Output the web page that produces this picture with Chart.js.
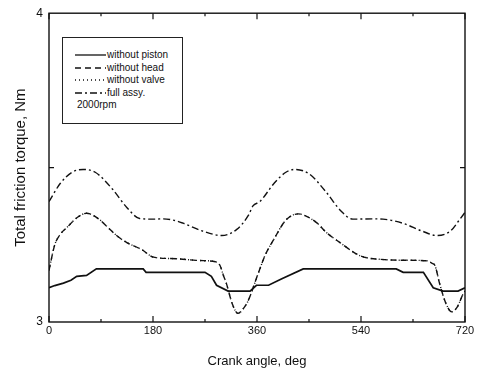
<!DOCTYPE html>
<html>
<head>
<meta charset="utf-8">
<script src="https://cdn.jsdelivr.net/npm/chart.js@4/dist/chart.umd.min.js"></script>
<style>
  body { margin: 0; background: #fff; }
  #wrap { position: relative; width: 478px; height: 369px; }
  #legendBox {
    position: absolute; left: 62px; top: 37px; width: 119px; height: 85px;
    border: 1px solid #222; background: #fff;
    font-family: "Liberation Sans", Arial, sans-serif; font-size: 10px; color: #111;
  }
  .row { position: absolute; left: 0; height: 12px; line-height: 12px; white-space: nowrap; }
  .row svg { position: absolute; left: 12px; top: 0; }
  .row span { position: absolute; left: 44px; }
  .note { position: absolute; left: 14px; }
</style>
</head>
<body>
<div id="wrap">
  <canvas id="torqueChart" width="478" height="369"></canvas>
  <div id="legendBox"></div>
</div>
<script>
// Total friction torque vs crank angle (2000rpm)
const xTicks = [0, 180, 360, 540, 720];
const yTicks = [3, 4];

const pistonAngle = [0, 10, 25, 38, 48, 65, 82, 163, 168, 270, 281, 290, 310, 348, 359, 380, 403, 440, 601, 613, 648, 665, 682, 708, 720];
const pistonTorque = [3.111, 3.118, 3.126, 3.135, 3.148, 3.151, 3.172, 3.172, 3.161, 3.161, 3.148, 3.119, 3.1, 3.1, 3.119, 3.119, 3.14, 3.172, 3.172, 3.161, 3.161, 3.111, 3.1, 3.1, 3.111];

const headAngle = [0, 10, 20, 31, 50, 65, 85, 100, 117, 134, 160, 181, 220, 261, 288, 296, 302, 307, 317, 327, 337, 345, 362, 375, 388, 410, 431, 463, 480, 503, 538, 580, 619, 655, 663, 668, 676, 687, 697, 707, 717, 720];
const headTorque = [3.167, 3.25, 3.285, 3.306, 3.34, 3.352, 3.335, 3.31, 3.28, 3.258, 3.235, 3.21, 3.205, 3.199, 3.195, 3.183, 3.15, 3.125, 3.06, 3.028, 3.045, 3.07, 3.157, 3.22, 3.264, 3.33, 3.35, 3.322, 3.29, 3.258, 3.215, 3.202, 3.2, 3.198, 3.19, 3.183, 3.125, 3.06, 3.033, 3.05, 3.092, 3.1];

// without valve runs on top of the without-head curve in the figure
const valveAngle = headAngle;
const valveTorque = [3.167, 3.25, 3.285, 3.306, 3.34, 3.352, 3.335, 3.31, 3.28, 3.258, 3.235, 3.21, 3.205, 3.199, 3.195, 3.183, 3.15, 3.125, 3.06, 3.028, 3.045, 3.07, 3.157, 3.22, 3.264, 3.33, 3.35, 3.322, 3.29, 3.258, 3.215, 3.202, 3.2, 3.198, 3.19, 3.183, 3.125, 3.06, 3.033, 3.05, 3.092, 3.1];

const fullAngle = [0, 20, 40, 59, 80, 110, 135, 157, 180, 197, 215, 232, 265, 299, 325, 345, 353, 365, 390, 410, 426, 450, 480, 505, 526, 560, 578, 612, 645, 671, 695, 710, 720];
const fullTorque = [3.39, 3.45, 3.485, 3.494, 3.485, 3.43, 3.37, 3.335, 3.333, 3.334, 3.33, 3.32, 3.295, 3.28, 3.3, 3.345, 3.376, 3.39, 3.45, 3.485, 3.494, 3.48, 3.42, 3.36, 3.333, 3.334, 3.333, 3.32, 3.295, 3.28, 3.295, 3.33, 3.355];

const series = [
  { label: "without piston", x: pistonAngle, y: pistonTorque, dash: [], width: 1.7, smooth: false },
  { label: "without head", x: headAngle, y: headTorque, dash: [6, 4], width: 1.4, smooth: true },
  { label: "without valve", x: valveAngle, y: valveTorque, dash: [1, 3], width: 1.4, smooth: true },
  { label: "full assy.", x: fullAngle, y: fullTorque, dash: [7, 3, 2, 3], width: 1.4, smooth: true },
];

const ink = "#111";
const fontFamily = "'Liberation Sans', Arial, sans-serif";

// frame + inward ticks, matlab style
const framePlugin = {
  id: "frame",
  afterDraw(chart) {
    const { ctx, chartArea: a, scales } = chart;
    ctx.save();
    ctx.strokeStyle = ink;
    ctx.lineWidth = 1.4;
    ctx.strokeRect(a.left, a.top, a.right - a.left, a.bottom - a.top);
    ctx.lineWidth = 1.2;
    for (let v = 0; v <= 720; v += 90) {
      const px = scales.x.getPixelForValue(v);
      const len = v % 180 === 0 ? 6 : 3;
      ctx.beginPath();
      ctx.moveTo(px, a.bottom); ctx.lineTo(px, a.bottom - len);
      ctx.moveTo(px, a.top); ctx.lineTo(px, a.top + len);
      ctx.stroke();
    }
    const py = scales.y.getPixelForValue(3.5);
    ctx.beginPath();
    ctx.moveTo(a.left, py); ctx.lineTo(a.left + 5, py);
    ctx.moveTo(a.right, py); ctx.lineTo(a.right - 5, py);
    ctx.stroke();
    ctx.restore();
  }
};

const ctx = document.getElementById("torqueChart").getContext("2d");
new Chart(ctx, {
  type: "scatter",
  data: {
    datasets: series.map(s => ({
      label: s.label,
      data: s.x.map((x, i) => ({ x: x, y: s.y[i] })),
      showLine: true,
      borderColor: ink,
      backgroundColor: ink,
      borderWidth: s.width,
      borderDash: s.dash,
      pointRadius: 0,
      cubicInterpolationMode: s.smooth ? "monotone" : "default",
      tension: 0,
    })),
  },
  options: {
    responsive: false,
    animation: false,
    layout: { padding: { left: 12, right: 13, top: 11, bottom: 0 } },
    plugins: { legend: { display: false }, tooltip: { enabled: false } },
    scales: {
      x: {
        type: "linear",
        min: 0, max: 720,
        afterFit: (scale) => { scale.height = 47; },
        grid: { display: false, drawTicks: false },
        border: { display: false },
        ticks: {
          stepSize: 180,
          autoSkip: false,
          maxRotation: 0,
          padding: 2,
          color: ink,
          font: { family: fontFamily, size: 11 },
          callback: (v) => xTicks.includes(v) ? String(v) : "",
        },
        title: {
          display: true,
          text: "Crank angle, deg",
          color: ink,
          padding: { top: 0, bottom: 0 },
          font: { family: fontFamily, size: 13 },
        },
      },
      y: {
        min: 3, max: 4,
        afterFit: (scale) => { scale.width = 37; },
        grid: { display: false, drawTicks: false },
        border: { display: false },
        ticks: {
          stepSize: 0.5,
          padding: 6,
          color: ink,
          font: { family: fontFamily, size: 12 },
          callback: (v) => yTicks.includes(v) ? String(v) : "",
        },
        title: {
          display: true,
          text: "Total friction torque, Nm",
          color: ink,
          padding: { top: 0, bottom: 0 },
          font: { family: fontFamily, size: 15 },
        },
      },
    },
  },
  plugins: [framePlugin],
});

// legend box inside the plot (with 2000rpm note)
const legendBox = document.getElementById("legendBox");
series.forEach((s, i) => {
  const row = document.createElement("div");
  row.className = "row";
  row.style.top = (11 + i * 12.5) + "px";
  row.style.width = "100%";
  row.innerHTML = `<svg width="31" height="12"><line x1="0" y1="6" x2="31" y2="6" stroke="${ink}" stroke-width="1.3" stroke-dasharray="${s.dash.join(" ") || "none"}"/></svg><span>${s.label}</span>`;
  legendBox.appendChild(row);
});
const note = document.createElement("div");
note.className = "row note";
note.style.top = (11 + 4 * 12.5) + "px";
note.textContent = "2000rpm";
legendBox.appendChild(note);
</script>
</body>
</html>
